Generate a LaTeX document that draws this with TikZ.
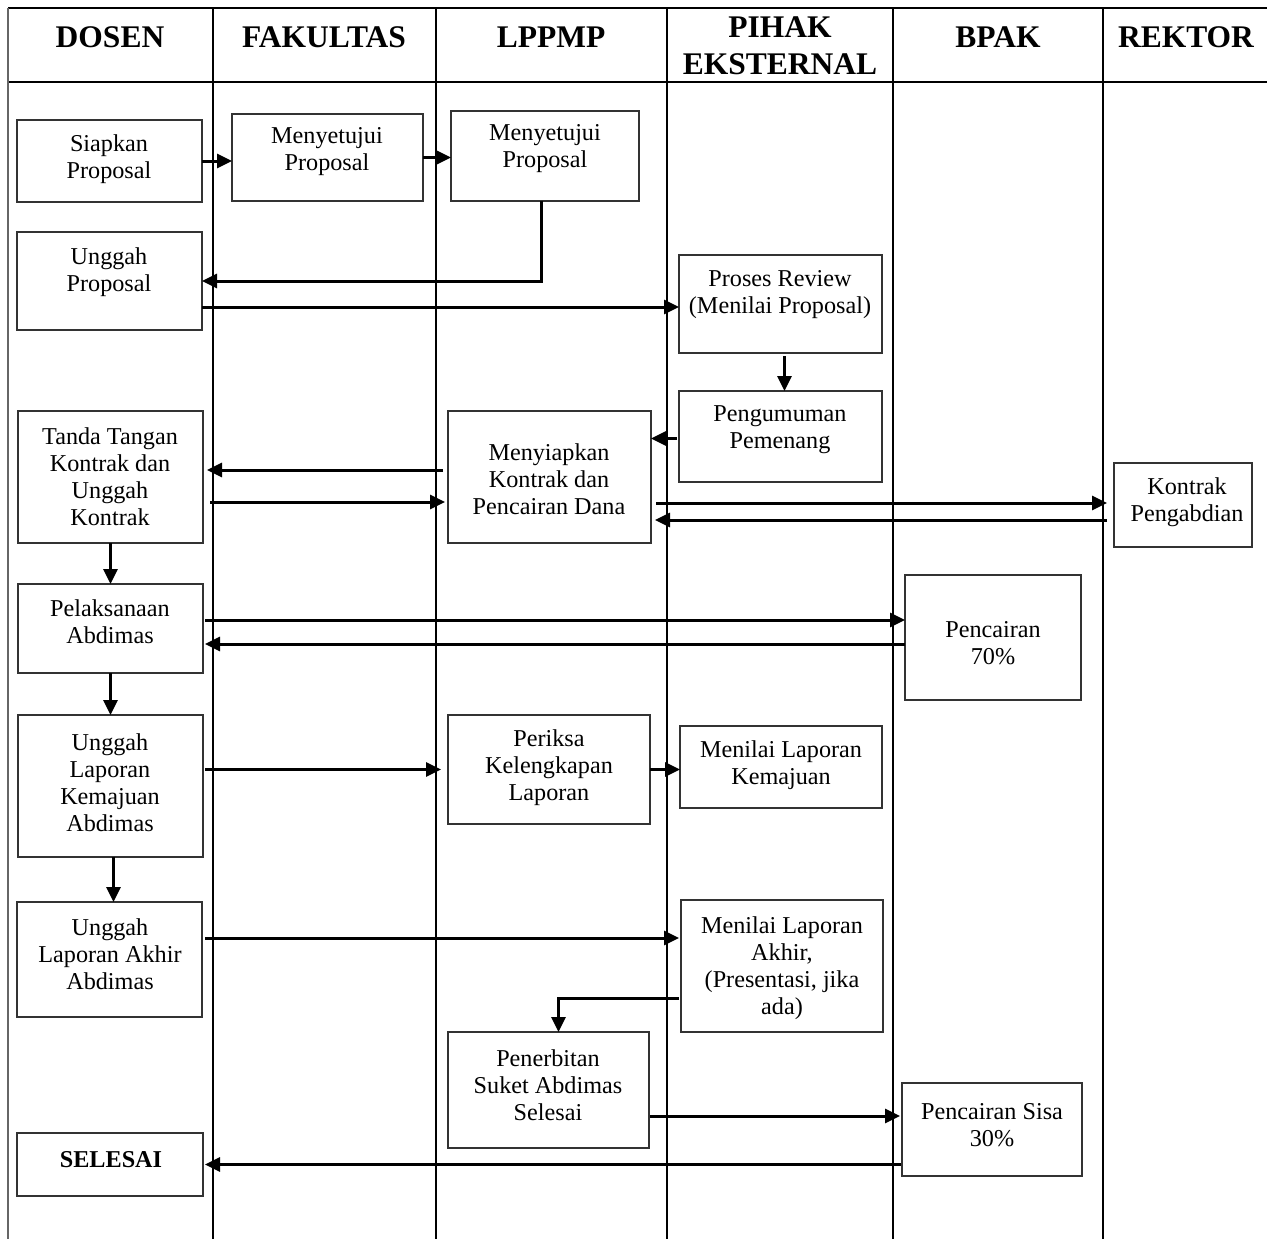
\documentclass[tikz,border=0pt]{standalone}
\usepackage{fontspec}
\setmainfont{Liberation Serif}
\usetikzlibrary{arrows.meta,fit,calc}
\begin{document}
\begin{tikzpicture}[x=1pt,y=-1pt,
  box/.style={draw=black!80, line width=1.3pt, inner sep=0pt, outer sep=0pt},
  txt/.style={align=center, font=\fontsize{24.2}{27}\selectfont, inner sep=0pt},
  head/.style={align=center, font=\bfseries\fontsize{31.5}{37}\selectfont, inner sep=0pt},
  lane/.style={line width=1.2pt, draw=black},
  arr/.style={line width=3pt, -{Triangle[length=15pt,width=14pt]}},
]
\useasboundingbox (0,0) rectangle (1267,1239);
% swimlane grid
\draw[lane] (8,8) -- (1267,8);
\draw[lane] (8,82) -- (1267,82);
\draw[line width=2pt, draw=black!60] (8,8) -- (8,1239);
\foreach \xx in {213,436,667,893,1103} \draw[lane] (\xx,8) -- (\xx,1239);
% headers
\node[head, anchor=base] (hDosen) at (110,48) {DOSEN};
\node[head, anchor=base] (hFak) at (324,48) {FAKULTAS};
\node[head, anchor=base] (hLp) at (551,48) {LPPMP};
\node[head] (hPihak) at (780,46) {PIHAK\\EKSTERNAL};
\node[head, anchor=base] (hBpak) at (998,48) {BPAK};
\node[head, anchor=base] (hRek) at (1186,48) {REKTOR};
% boxes
\node[box, fit={(17,120)(202,202)}] (siap) {};
\node[box, fit={(232,114)(423,201)}] (fak1) {};
\node[box, fit={(451,111)(639,201)}] (lp1) {};
\node[box, fit={(17,232)(202,330)}] (ung) {};
\node[box, fit={(679,255)(882,353)}] (rev) {};
\node[box, fit={(679,391)(882,482)}] (umum) {};
\node[box, fit={(18,411)(203,543)}] (ttd) {};
\node[box, fit={(448,411)(651,543)}] (mkon) {};
\node[box, fit={(1114,463)(1252,547)}] (kontrak) {};
\node[box, fit={(18,584)(203,673)}] (pel) {};
\node[box, fit={(905,575)(1081,700)}] (p70) {};
\node[box, fit={(18,715)(203,857)}] (kem) {};
\node[box, fit={(448,715)(650,824)}] (per) {};
\node[box, fit={(680,726)(882,808)}] (mkem) {};
\node[box, fit={(17,902)(202,1017)}] (akh) {};
\node[box, fit={(681,900)(883,1032)}] (mak) {};
\node[box, fit={(448,1032)(649,1148)}] (pen) {};
\node[box, fit={(902,1083)(1082,1176)}] (p30) {};
\node[box, fit={(17,1133)(203,1196)}] (sel) {};
% texts
\node[txt] (tSiap) at (109,159) {Siapkan\\Proposal};
\node[txt] (tFak1) at (327,151.5) {Menyetujui\\Proposal};
\node[txt] (tLp1) at (545,148.5) {Menyetujui\\Proposal};
\node[txt] (tUng) at (109,272) {Unggah\\Proposal};
\node[txt] (tRev) at (780,295) {Proses Review\\(Menilai Proposal)};
\node[txt] (tUmum) at (780,429.5) {Pengumuman\\Pemenang};
\node[txt] (tTtd) at (110,477) {Tanda Tangan\\Kontrak dan\\Unggah\\Kontrak};
\node[txt] (tMkon) at (549,479) {Menyiapkan\\Kontrak dan\\Pencairan Dana};
\node[txt] (tKontrak) at (1187,502) {Kontrak\\Pengabdian};
\node[txt] (tPel) at (110,622) {Pelaksanaan\\Abdimas};
\node[txt] (tP70) at (993,643) {Pencairan\\70\%};
\node[txt] (tKem) at (110,782.5) {Unggah\\Laporan\\Kemajuan\\Abdimas};
\node[txt] (tPer) at (549,768) {Periksa\\Kelengkapan\\Laporan};
\node[txt] (tMkem) at (781,765) {Menilai Laporan\\Kemajuan};
\node[txt] (tAkh) at (110,954) {Unggah\\Laporan Akhir\\Abdimas};
\node[txt] (tMak) at (782,968) {Menilai Laporan\\Akhir,\\(Presentasi, jika\\ada)};
\node[txt] (tPen) at (548,1085) {Penerbitan\\Suket Abdimas\\Selesai};
\node[txt] (tP30) at (992,1125) {Pencairan Sisa\\30\%};
\node[txt, font=\bfseries\fontsize{24.2}{27}\selectfont] (tSel) at (111,1160) {SELESAI};
% connectors
\draw[arr] (siap.east) -- (siap.east -| fak1.west);
\draw[arr] (fak1.east) -- (fak1.east -| lp1.west);
\coordinate (c3) at ([xshift=-4pt]lp1.south);
\draw[arr] (c3) |- (ung.east);
\coordinate (c4) at ([yshift=-3pt]rev.west);
\draw[arr] (ung.east |- c4) -- (c4);
\draw[arr, shorten <=3pt] ([xshift=4pt]rev.south) -- ([xshift=4pt]umum.north);
\coordinate (c6) at ([yshift=-2pt]umum.west);
\draw[arr, shorten <=2pt] (c6) -- (c6 -| mkon.east);
\coordinate (c7) at ([yshift=7pt]mkon.west);
\draw[arr, shorten <=5pt, shorten >=4pt] (c7) -- (c7 -| ttd.east);
\coordinate (c8) at ([yshift=-25pt]ttd.east);
\draw[arr, shorten <=7pt, shorten >=3pt] (c8) -- (c8 -| mkon.west);
\coordinate (c9) at ([yshift=2pt]kontrak.west);
\draw[arr, shorten <=5pt, shorten >=7pt] (c9 -| mkon.east) -- (c9);
\coordinate (c10) at ([yshift=-15pt]kontrak.west);
\draw[arr, shorten <=7pt, shorten >=4pt] (c10) -- (c10 -| mkon.east);
\draw[arr] (ttd.south) -- (pel.north);
\coordinate (c12) at ([yshift=8.5pt]pel.east);
\draw[arr, shorten <=2pt] (c12) -- (c12 -| p70.west);
\coordinate (c13) at ([yshift=-15.5pt]pel.east);
\draw[arr, shorten >=2pt] (c13 -| p70.west) -- (c13);
\draw[arr] (pel.south) -- (kem.north);
\draw[arr, shorten <=2pt, shorten >=7pt] (kem.east |- per.west) -- (per.west);
\draw[arr] (per.east) -- (per.east -| mkem.west);
\draw[arr] ([xshift=3pt]kem.south) -- ([xshift=3pt]kem.south |- akh.north);
\coordinate (c18) at ([yshift=28pt]mak.west);
\draw[arr, shorten <=3pt, shorten >=2pt] (akh.east |- c18) -- (c18);
\coordinate (c19) at ([yshift=-32pt]mak.west);
\draw[arr, shorten <=2pt] (c19) -| ([xshift=10pt]pen.north);
\coordinate (c20) at ([yshift=-26pt]pen.east);
\draw[arr, shorten <=1pt, shorten >=2pt] (c20) -- (c20 -| p30.west);
\draw[arr, shorten <=1pt, shorten >=2pt] (sel.east -| p30.west) -- (sel.east);
\end{tikzpicture}
\end{document}
